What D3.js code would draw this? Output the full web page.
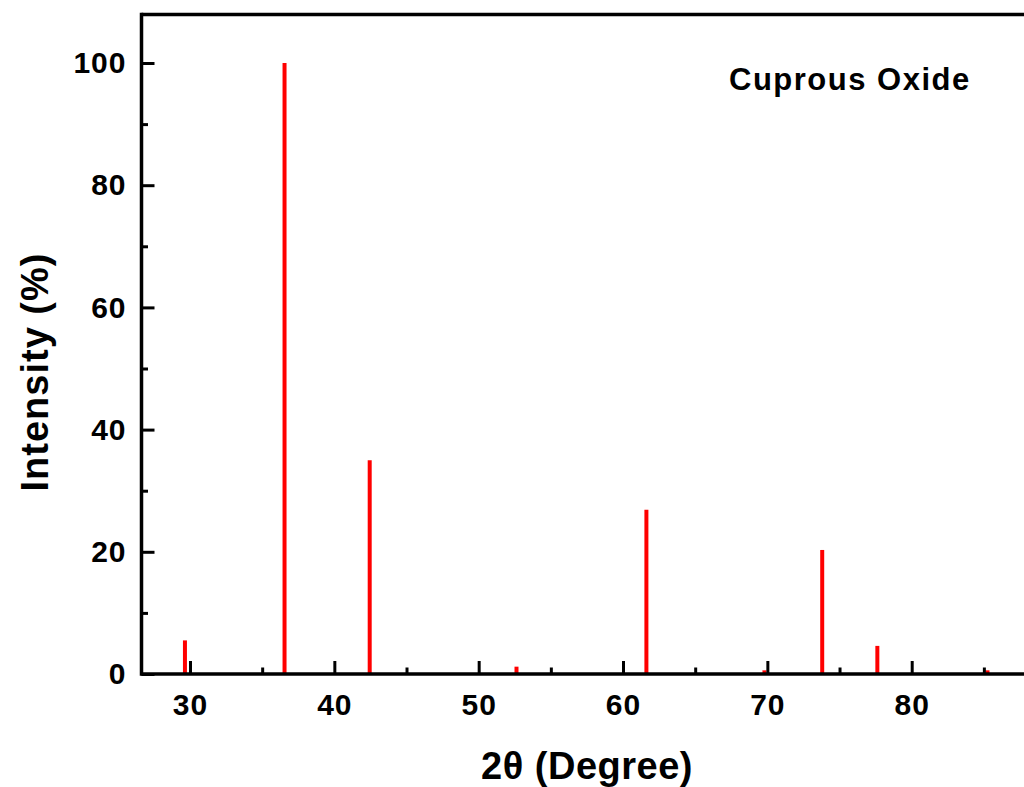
<!DOCTYPE html>
<html>
<head>
<meta charset="utf-8">
<script src="https://cdn.jsdelivr.net/npm/d3@7"></script>
<style>
  html, body { margin: 0; padding: 0; background: #ffffff; overflow: hidden; }
  svg { display: block; }
  text { font-family: "Liberation Sans", Arial, sans-serif; font-weight: bold; fill: #000; }
</style>
</head>
<body>
<svg id="chart" width="1024" height="787"></svg>
<script>
// Data: Cu2O reference pattern (2θ in degrees, relative intensity %)
const peakPositions = [29.65, 36.55, 42.45, 52.62, 61.62, 69.8, 73.8, 77.62, 85.25];
const peakIntensities = [5.5, 100, 35, 1.2, 26.9, 0.6, 20.3, 4.6, 0.6];
const xMajorTicks = [30, 40, 50, 60, 70, 80];
const xMinorTicks = [35, 45, 55, 65, 75, 85];
const yMajorTicks = [0, 20, 40, 60, 80, 100];
const yMinorTicks = [10, 30, 50, 70, 90];
const xTitle = "2θ (Degree)";
const yTitle = "Intensity (%)";
const label = "Cuprous Oxide";

const svg = d3.select("#chart");
const plotLeft = 141.5, plotBottom = 674, plotTop = 14.5;
const x = d3.scaleLinear().domain([26.64, 90]).range([plotLeft, plotLeft + (90 - 26.64) * 14.434]);
const y = d3.scaleLinear().domain([0, 108]).range([plotBottom, plotBottom - 108 * 6.11]);

// peaks
svg.append("g").selectAll("line").data(peakPositions).join("line")
  .attr("x1", d => x(d)).attr("x2", d => x(d))
  .attr("y1", y(0)).attr("y2", (d, i) => y(peakIntensities[i]))
  .attr("stroke", "#ff0000").attr("stroke-width", 4);

// Bottom axis (ticks inward)
const xAxisMajor = d3.axisBottom(x).tickValues(xMajorTicks).tickSizeInner(-13).tickSizeOuter(0).tickPadding(20).tickFormat(d3.format("d"));
const gx = svg.append("g").attr("transform", `translate(0,${plotBottom})`).call(xAxisMajor);
gx.select(".domain").remove();
gx.selectAll(".tick line").attr("stroke", "#000").attr("stroke-width", 3);
gx.selectAll(".tick text").attr("font-size", 30).attr("letter-spacing", 1).attr("dy", "0.71em")
  .attr("y", 20).style("font-family", "'Liberation Sans', Arial, sans-serif").style("font-weight", "bold").attr("fill", "#000");
const xAxisMinor = d3.axisBottom(x).tickValues(xMinorTicks).tickSizeInner(-6.5).tickSizeOuter(0).tickFormat("");
const gxm = svg.append("g").attr("transform", `translate(0,${plotBottom})`).call(xAxisMinor);
gxm.select(".domain").remove();
gxm.selectAll(".tick line").attr("stroke", "#000").attr("stroke-width", 3);

// Left axis (ticks inward)
const yAxisMajor = d3.axisLeft(y).tickValues(yMajorTicks).tickSizeInner(-13).tickSizeOuter(0).tickPadding(15).tickFormat(d3.format("d"));
const gy = svg.append("g").attr("transform", `translate(${plotLeft},0)`).call(yAxisMajor);
gy.select(".domain").remove();
gy.selectAll(".tick line").attr("stroke", "#000").attr("stroke-width", 3);
gy.selectAll(".tick text").attr("font-size", 30).attr("letter-spacing", 1).attr("x", -15)
  .style("font-family", "'Liberation Sans', Arial, sans-serif").style("font-weight", "bold").attr("fill", "#000");
const yAxisMinor = d3.axisLeft(y).tickValues(yMinorTicks).tickSizeInner(-6.5).tickSizeOuter(0).tickFormat("");
const gym = svg.append("g").attr("transform", `translate(${plotLeft},0)`).call(yAxisMinor);
gym.select(".domain").remove();
gym.selectAll(".tick line").attr("stroke", "#000").attr("stroke-width", 3);

// Frame lines
svg.append("line").attr("x1", plotLeft).attr("x2", x(90)).attr("y1", plotBottom).attr("y2", plotBottom)
  .attr("stroke", "#000").attr("stroke-width", 3.5);
svg.append("line").attr("x1", plotLeft).attr("x2", x(90)).attr("y1", plotTop).attr("y2", plotTop)
  .attr("stroke", "#000").attr("stroke-width", 3.5);
svg.append("line").attr("x1", plotLeft).attr("x2", plotLeft).attr("y1", plotTop - 1.75).attr("y2", plotBottom + 1.75)
  .attr("stroke", "#000").attr("stroke-width", 3.5);

// Titles
svg.append("text").attr("x", 587).attr("y", 779).attr("text-anchor", "middle")
  .attr("font-size", 38).attr("letter-spacing", 0.5).text(xTitle);
svg.append("text").attr("transform", "translate(48,372) rotate(-90)").attr("text-anchor", "middle")
  .attr("font-size", 38).attr("letter-spacing", 1).text(yTitle);

// In-plot label
svg.append("text").attr("x", 729).attr("y", 90).attr("font-size", 31).attr("letter-spacing", 1.5).text(label);
</script>
</body>
</html>
